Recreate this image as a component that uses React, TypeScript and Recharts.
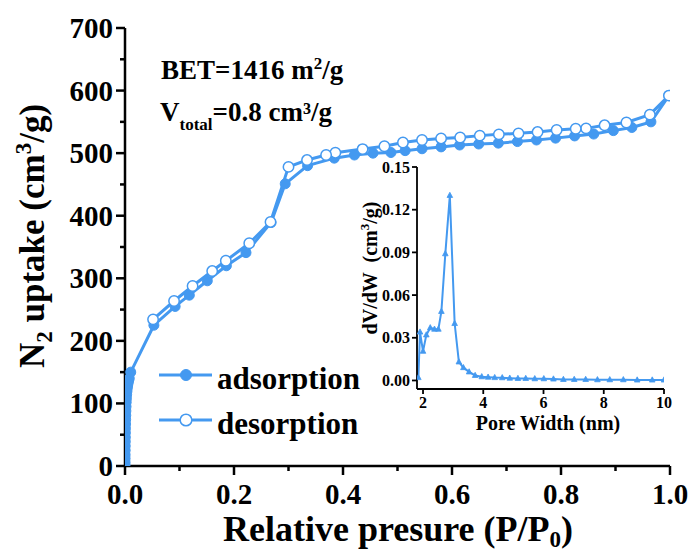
import React from 'react';
import { LineChart, Line, XAxis, YAxis } from 'recharts';

const FONT = '"Liberation Serif", "Times New Roman", Times, serif';
const BLUE = '#4499f0';

// ---- main isotherm data ----
const adsorptionP = [0.00005, 0.0001, 0.00015, 0.0002, 0.0003, 0.0004, 0.0005, 0.0006, 0.0007, 0.0008,
  0.001, 0.0012, 0.0014, 0.0016, 0.0019, 0.0022, 0.0026, 0.003, 0.0035, 0.0041, 0.0048, 0.0056, 0.0066, 0.0078, 0.0105,
  0.053, 0.092, 0.118, 0.151, 0.186, 0.222, 0.268, 0.294, 0.335, 0.384, 0.421, 0.455, 0.488, 0.514,
  0.545, 0.58, 0.614, 0.649, 0.685, 0.72, 0.755, 0.79, 0.825, 0.86, 0.896, 0.93, 0.965, 0.998];
const adsorptionV = [1, 6, 12, 18, 25, 32, 39, 46, 53, 60,
  67, 74, 81, 88, 95, 102, 108, 114, 119, 124, 128, 132, 136, 140, 150,
  225, 255, 273, 296, 320, 341, 389, 451, 480, 492, 497, 500, 501, 504,
  507, 510, 513, 514.6, 516, 518.5, 521, 524, 527.5, 530.5, 536, 541, 550, 592];

const desorptionP = [0.998, 0.963, 0.92, 0.88, 0.846, 0.827, 0.792, 0.757, 0.722, 0.686, 0.651, 0.615,
  0.58, 0.545, 0.51, 0.476, 0.436, 0.386, 0.369, 0.334, 0.3, 0.267, 0.228, 0.185, 0.16, 0.124, 0.09, 0.0515];
const desorptionV = [592, 561.5, 549, 544.5, 539.6, 539, 537, 533.7, 531.6, 530, 528, 525,
  523.5, 521, 517, 511, 506.5, 500.7, 497, 489, 478, 390, 356, 328, 311.6, 287.7, 263.7, 234.4];

const mainXTicks = [0, 0.1, 0.2, 0.3, 0.4, 0.5, 0.6, 0.7, 0.8, 0.9, 1.0];
const mainYTicks = [0, 50, 100, 150, 200, 250, 300, 350, 400, 450, 500, 550, 600, 650, 700];

// ---- inset pore size distribution ----
const poreWidth = [1.845, 1.9, 2.0, 2.11, 2.24, 2.38, 2.51, 2.61, 2.74, 2.89, 3.05, 3.19, 3.34, 3.53, 3.73,
  3.95, 4.16, 4.38, 4.63, 4.88, 5.15, 5.41, 5.71, 6.01, 6.33, 6.66, 7.02, 7.4, 7.79, 8.2, 8.65, 9.11, 9.61, 10.0];
const dVdW = [0.002, 0.034, 0.0205, 0.032, 0.037, 0.036, 0.036, 0.0485, 0.089, 0.130, 0.040, 0.013, 0.009, 0.006, 0.0035,
  0.0026, 0.0023, 0.002, 0.0019, 0.0016, 0.0014, 0.0014, 0.0012, 0.0012, 0.001, 0.0007, 0.0007, 0.0007, 0.0005, 0.0005, 0.0005, 0.0003, 0.0003, 0.0003];

const insetXTicks = [2, 4, 6, 8, 10];
const insetYTicks = [0, 0.03, 0.06, 0.09, 0.12, 0.15];

const adsorption = adsorptionP.map((p, i) => ({ p, v: adsorptionV[i] }));
const desorption = desorptionP.map((p, i) => ({ p, v: desorptionV[i] }));
const psd = poreWidth.map((w, i) => ({ w, d: dVdW[i] }));

const MainXTick = (props: any) => {
  const { x, y, payload } = props;
  const major = Math.round(payload.value * 10) % 2 === 0;
  return (
    <g>
      <line x1={x} y1={y} x2={x} y2={y + (major ? 9 : 5)} stroke="#000" strokeWidth={2.5} />
      {major && (
        <text x={x} y={y + 38} textAnchor="middle" fontFamily={FONT} fontWeight="bold" fontSize={29} fill="#000">
          {payload.value.toFixed(1)}
        </text>
      )}
    </g>
  );
};

const MainYTick = (props: any) => {
  const { x, y, payload } = props;
  const major = Math.round(payload.value) % 100 === 0;
  return (
    <g>
      <line x1={x} y1={y} x2={x - (major ? 9 : 5)} y2={y} stroke="#000" strokeWidth={2.5} />
      {major && (
        <text x={x - 12} y={y + 10} textAnchor="end" fontFamily={FONT} fontWeight="bold" fontSize={29} fill="#000">
          {payload.value}
        </text>
      )}
    </g>
  );
};

const InsetXTick = (props: any) => {
  const { x, y, payload } = props;
  return (
    <g>
      <line x1={x} y1={y} x2={x} y2={y + 5} stroke="#000" strokeWidth={1.8} />
      <text x={x} y={y + 19} textAnchor="middle" fontFamily={FONT} fontWeight="bold" fontSize={16} fill="#000">
        {payload.value}
      </text>
    </g>
  );
};

const InsetYTick = (props: any) => {
  const { x, y, payload } = props;
  return (
    <g>
      <line x1={x} y1={y} x2={x - 5} y2={y} stroke="#000" strokeWidth={1.8} />
      <text x={x - 7} y={y + 5.5} textAnchor="end" fontFamily={FONT} fontWeight="bold" fontSize={16} fill="#000">
        {payload.value.toFixed(2)}
      </text>
    </g>
  );
};

const Triangle = (props: any) => {
  const { cx, cy } = props;
  if (cx == null || cy == null) return null;
  return <path d={`M${cx},${cy - 3.2} L${cx + 2.8},${cy + 2} L${cx - 2.8},${cy + 2} Z`} fill={BLUE} stroke={BLUE} strokeWidth={0.8} />;
};

export default function App() {
  return (
    <div style={{ position: 'absolute', left: 0, top: 0, width: 692, height: 552, background: '#fff', overflow: 'hidden' }}>
      <div style={{ position: 'absolute', left: 0, top: 0 }}>
        <LineChart width={692} height={552} margin={{ top: 28, right: 22, bottom: 0, left: 0 }}>
          <XAxis
            dataKey="p"
            type="number"
            domain={[0, 1]}
            ticks={mainXTicks}
            interval={0}
            allowDataOverflow
            height={86}
            tickSize={0}
            tickMargin={0}
            tickLine={false}
            tick={<MainXTick />}
            axisLine={{ stroke: '#000', strokeWidth: 2.5 }}
          />
          <XAxis xAxisId="top" orientation="top" type="number" domain={[0, 1]} height={0} tick={false} tickLine={false} axisLine={{ stroke: '#000', strokeWidth: 2.5 }} />
          <YAxis
            type="number"
            domain={[0, 700]}
            ticks={mainYTicks}
            interval={0}
            allowDataOverflow
            width={125}
            tickSize={0}
            tickMargin={0}
            tickLine={false}
            tick={<MainYTick />}
            axisLine={{ stroke: '#000', strokeWidth: 2.5 }}
          />
          <YAxis yAxisId="right" orientation="right" type="number" domain={[0, 700]} width={0} tick={false} tickLine={false} axisLine={{ stroke: '#000', strokeWidth: 2.5 }} />
          <Line
            data={adsorption}
            dataKey="v"
            type="linear"
            stroke={BLUE}
            strokeWidth={3}
            dot={{ r: 5, fill: BLUE, stroke: BLUE, strokeWidth: 1 }}
            isAnimationActive={false}
          />
          <Line
            data={desorption}
            dataKey="v"
            type="linear"
            stroke={BLUE}
            strokeWidth={3}
            dot={{ r: 5.2, fill: '#fff', stroke: BLUE, strokeWidth: 1.5 }}
            isAnimationActive={false}
          />
        </LineChart>
      </div>

      <svg width={692} height={552} style={{ position: 'absolute', left: 0, top: 0, pointerEvents: 'none' }}>
        {/* axis titles */}
        <text x={398} y={541} textAnchor="middle" fontFamily={FONT} fontWeight="bold" fontSize={36} fill="#000">
          Relative presure (P/P<tspan fontSize={23} dy={6}>0</tspan><tspan dy={-6}>)</tspan>
        </text>
        <text x={44} y={236} textAnchor="middle" transform="rotate(-90 44 236)" fontFamily={FONT} fontWeight="bold" fontSize={35} fill="#000">
          N<tspan fontSize={23} dy={8}>2</tspan><tspan dy={-8}> uptake (cm</tspan><tspan fontSize={23} dy={-13}>3</tspan><tspan dy={13}>/g)</tspan>
        </text>
        {/* annotations */}
        <text x={161} y={79} fontFamily={FONT} fontWeight="bold" fontSize={27} fill="#000">
          BET=1416 m<tspan fontSize={17} dy={-10}>2</tspan><tspan dy={10}>/g</tspan>
        </text>
        <text x={160} y={121} fontFamily={FONT} fontWeight="bold" fontSize={27} fill="#000">
          V<tspan fontSize={17} dy={9}>total</tspan><tspan dy={-9}>=0.8 cm³/g</tspan>
        </text>
        {/* legend */}
        <line x1={159} y1={375} x2={212} y2={375} stroke={BLUE} strokeWidth={3} />
        <circle cx={186} cy={375} r={5.5} fill={BLUE} stroke={BLUE} strokeWidth={1} />
        <text x={217} y={389} fontFamily={FONT} fontWeight="bold" fontSize={31} fill="#000">adsorption</text>
        <line x1={159} y1={420} x2={212} y2={420} stroke={BLUE} strokeWidth={3} />
        <circle cx={186} cy={420} r={5.8} fill="#fff" stroke={BLUE} strokeWidth={1.5} />
        <text x={217} y={434} fontFamily={FONT} fontWeight="bold" fontSize={31} fill="#000">desorption</text>
        {/* inset titles */}
        <text x={548} y={430} textAnchor="middle" fontFamily={FONT} fontWeight="bold" fontSize={20} fill="#000">
          Pore Width (nm)
        </text>
        <text x={377} y={268} textAnchor="middle" transform="rotate(-90 377 268)" fontFamily={FONT} fontWeight="bold" fontSize={20} fill="#000" style={{ whiteSpace: 'pre' }}>
          {'dV/dW  (cm'}<tspan fontSize={13} dy={-8}>3</tspan><tspan dy={8}>/g)</tspan>
        </text>
      </svg>

      <div style={{ position: 'absolute', left: 360, top: 160 }}>
        <LineChart width={320} height={290} margin={{ top: 7, right: 16, bottom: 0, left: 0 }}>
          <XAxis
            dataKey="w"
            type="number"
            domain={[1.8, 10]}
            ticks={insetXTicks}
            interval={0}
            allowDataOverflow
            height={61}
            tickSize={0}
            tickMargin={0}
            tickLine={false}
            tick={<InsetXTick />}
            axisLine={{ stroke: '#000', strokeWidth: 1.8 }}
          />
          <XAxis xAxisId="top" orientation="top" type="number" domain={[1.8, 10]} height={0} tick={false} tickLine={false} axisLine={{ stroke: '#000', strokeWidth: 1.8 }} />
          <YAxis
            type="number"
            domain={[-0.006, 0.15]}
            ticks={insetYTicks}
            interval={0}
            allowDataOverflow
            width={57}
            tickSize={0}
            tickMargin={0}
            tickLine={false}
            tick={<InsetYTick />}
            axisLine={{ stroke: '#000', strokeWidth: 1.8 }}
          />
          <YAxis yAxisId="right" orientation="right" type="number" domain={[-0.006, 0.15]} width={0} tick={false} tickLine={false} axisLine={{ stroke: '#000', strokeWidth: 1.8 }} />
          <Line
            data={psd}
            dataKey="d"
            type="linear"
            stroke={BLUE}
            strokeWidth={2}
            dot={<Triangle />}
            isAnimationActive={false}
          />
        </LineChart>
      </div>
    </div>
  );
}
